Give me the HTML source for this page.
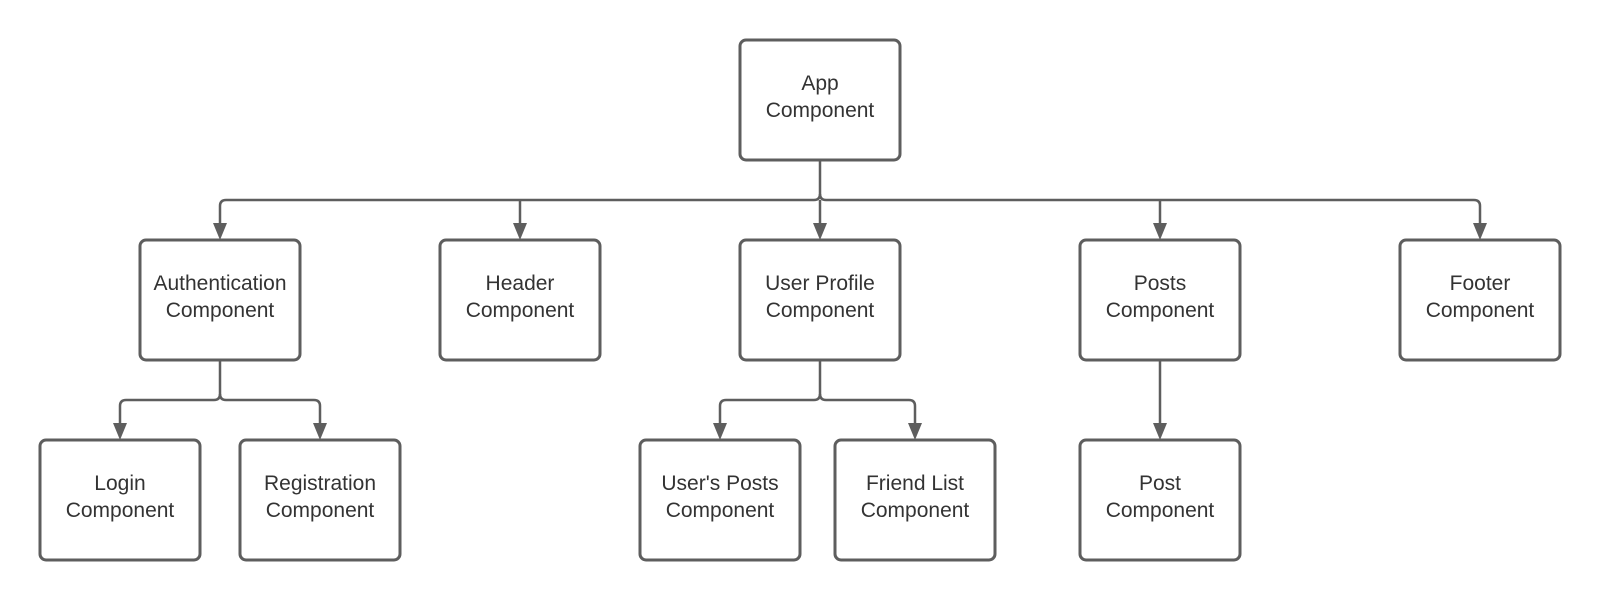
<!DOCTYPE html>
<html><head><meta charset="utf-8"><style>
html,body{margin:0;padding:0;background:#fff;}
svg{display:block;}
text{font-family:"Liberation Sans",sans-serif;font-size:21px;fill:#333;text-anchor:middle;}
</style></head><body>
<svg width="1600" height="600" viewBox="0 0 1600 600">
<g fill="none" stroke="#5e5e5e" stroke-width="2.5">
<path d="M820 160 V194 Q820 200 826 200 H1474 Q1480 200 1480 206 V226"/>
<path d="M820 194 Q820 200 814 200 H226 Q220 200 220 206 V226"/>
<path d="M520 200 V226"/>
<path d="M820 200 V226"/>
<path d="M1160 200 V226"/>
<path d="M220 360 V394 Q220 400 214 400 H126 Q120 400 120 406 V426"/>
<path d="M220 394 Q220 400 226 400 H314 Q320 400 320 406 V426"/>
<path d="M820 360 V394 Q820 400 814 400 H726 Q720 400 720 406 V426"/>
<path d="M820 394 Q820 400 826 400 H909 Q915 400 915 406 V426"/>
<path d="M1160 360 V426"/>
</g>
<g fill="#5e5e5e">
<path d="M213 223 L227 223 L220 240 Z"/>
<path d="M513 223 L527 223 L520 240 Z"/>
<path d="M813 223 L827 223 L820 240 Z"/>
<path d="M1153 223 L1167 223 L1160 240 Z"/>
<path d="M1473 223 L1487 223 L1480 240 Z"/>
<path d="M113 423 L127 423 L120 440 Z"/>
<path d="M313 423 L327 423 L320 440 Z"/>
<path d="M713 423 L727 423 L720 440 Z"/>
<path d="M908 423 L922 423 L915 440 Z"/>
<path d="M1153 423 L1167 423 L1160 440 Z"/>
</g>
<g fill="#fff" stroke="#5e5e5e" stroke-width="3">
<rect x="740" y="40" width="160" height="120" rx="6"/>
<rect x="140" y="240" width="160" height="120" rx="6"/>
<rect x="440" y="240" width="160" height="120" rx="6"/>
<rect x="740" y="240" width="160" height="120" rx="6"/>
<rect x="1080" y="240" width="160" height="120" rx="6"/>
<rect x="1400" y="240" width="160" height="120" rx="6"/>
<rect x="40" y="440" width="160" height="120" rx="6"/>
<rect x="240" y="440" width="160" height="120" rx="6"/>
<rect x="640" y="440" width="160" height="120" rx="6"/>
<rect x="835" y="440" width="160" height="120" rx="6"/>
<rect x="1080" y="440" width="160" height="120" rx="6"/>
</g>
<text x="820" y="90">App</text><text x="820" y="117">Component</text>
<text x="220" y="290">Authentication</text><text x="220" y="317">Component</text>
<text x="520" y="290">Header</text><text x="520" y="317">Component</text>
<text x="820" y="290">User Profile</text><text x="820" y="317">Component</text>
<text x="1160" y="290">Posts</text><text x="1160" y="317">Component</text>
<text x="1480" y="290">Footer</text><text x="1480" y="317">Component</text>
<text x="120" y="490">Login</text><text x="120" y="517">Component</text>
<text x="320" y="490">Registration</text><text x="320" y="517">Component</text>
<text x="720" y="490">User's Posts</text><text x="720" y="517">Component</text>
<text x="915" y="490">Friend List</text><text x="915" y="517">Component</text>
<text x="1160" y="490">Post</text><text x="1160" y="517">Component</text>
</svg>
</body></html>
